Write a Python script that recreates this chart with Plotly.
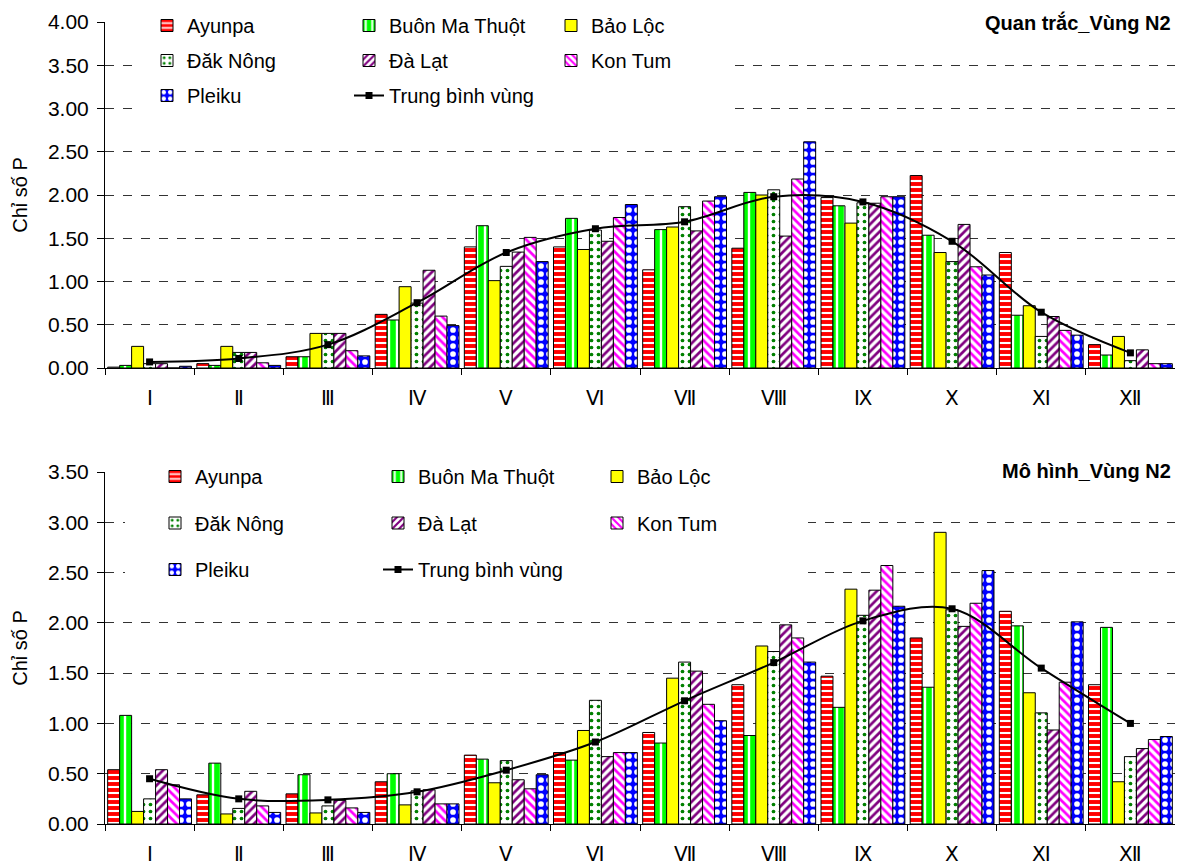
import plotly.graph_objects as go

# ---------------- data ----------------
months = ["Ⅰ", "Ⅱ", "Ⅲ", "Ⅳ", "Ⅴ", "Ⅵ", "Ⅶ", "Ⅷ", "Ⅸ", "Ⅹ", "Ⅺ", "Ⅻ"]
stations = ["Ayunpa", "Buôn Ma Thuột", "Bảo Lộc", "Đăk Nông", "Đà Lạt", "Kon Tum", "Pleiku"]
mean_name = "Trung bình vùng"

# Quan trắc (observed)
obs_ayunpa = [0.01, 0.05, 0.13, 0.62, 1.40, 1.40, 1.135, 1.385, 1.97, 2.225, 1.335, 0.27]
obs_bmt = [0.03, 0.03, 0.13, 0.555, 1.645, 1.73, 1.60, 2.03, 1.875, 1.535, 0.61, 0.15]
obs_baoloc = [0.25, 0.25, 0.40, 0.94, 1.01, 1.37, 1.63, 2.00, 1.675, 1.335, 0.72, 0.365]
obs_daknong = [0.05, 0.18, 0.40, 0.75, 1.175, 1.595, 1.865, 2.06, 1.91, 1.23, 0.365, 0.085]
obs_dalat = [0.05, 0.18, 0.40, 1.13, 1.34, 1.465, 1.585, 1.525, 1.905, 1.66, 0.595, 0.21]
obs_kontum = [0.0, 0.06, 0.20, 0.60, 1.51, 1.74, 1.93, 2.185, 1.98, 1.17, 0.435, 0.05]
obs_pleiku = [0.02, 0.03, 0.14, 0.49, 1.23, 1.89, 1.98, 2.615, 1.98, 1.075, 0.38, 0.05]
obs_mean = [0.07, 0.11, 0.27, 0.755, 1.335, 1.61, 1.69, 1.98, 1.92, 1.465, 0.645, 0.175]

# Mô hình (model)
mod_ayunpa = [0.54, 0.29, 0.30, 0.42, 0.685, 0.71, 0.91, 1.385, 1.47, 1.85, 2.115, 1.385]
mod_bmt = [1.08, 0.605, 0.49, 0.50, 0.645, 0.635, 0.805, 0.88, 1.16, 1.36, 1.97, 1.955]
mod_baoloc = [0.125, 0.10, 0.11, 0.19, 0.41, 0.93, 1.45, 1.77, 2.335, 2.90, 1.305, 0.42]
mod_daknong = [0.25, 0.155, 0.18, 0.33, 0.63, 1.23, 1.61, 1.715, 2.075, 2.13, 1.105, 0.67]
mod_dalat = [0.54, 0.325, 0.235, 0.34, 0.44, 0.67, 1.52, 1.98, 2.325, 1.965, 0.935, 0.75]
mod_kontum = [0.39, 0.18, 0.16, 0.20, 0.35, 0.71, 1.19, 1.85, 2.57, 2.195, 1.41, 0.84]
mod_pleiku = [0.25, 0.115, 0.115, 0.20, 0.49, 0.71, 1.027, 1.61, 2.165, 2.52, 2.01, 0.87]
mod_mean = [0.45, 0.25, 0.24, 0.32, 0.535, 0.815, 1.225, 1.605, 2.02, 2.14, 1.55, 1.0]

obs_series = [obs_ayunpa, obs_bmt, obs_baoloc, obs_daknong, obs_dalat, obs_kontum, obs_pleiku]
mod_series = [mod_ayunpa, mod_bmt, mod_baoloc, mod_daknong, mod_dalat, mod_kontum, mod_pleiku]

title_top = "Quan trắc_Vùng N2"
title_bot = "Mô hình_Vùng N2"
y_title = "Chỉ số P"

# ---------------- styles ----------------
styles = {
    "Ayunpa": dict(bg="#FF0000", fg="#FFFFFF", shape="-", size=6, sol=0.35),
    "Buôn Ma Thuột": dict(bg="#00FF00", fg="#FFFFFF", shape="|", size=8, sol=0.3),
    "Bảo Lộc": dict(bg="#FFFF00", fg="#FFFF00", shape="", size=8, sol=0.3),
    "Đăk Nông": dict(bg="#FFFFFF", fg="#008000", shape=".", size=7, sol=0.22),
    "Đà Lạt": dict(bg="#FFFFFF", fg="#800080", shape="/", size=6, sol=0.45),
    "Kon Tum": dict(bg="#FFFFFF", fg="#FF00FF", shape="\\", size=6, sol=0.45),
    "Pleiku": dict(bg="#0000FF", fg="#FFFFFF", shape=".", size=8, sol=0.4),
}
legend_col = {"Ayunpa": 0, "Buôn Ma Thuột": 1, "Bảo Lộc": 2, "Đăk Nông": 0,
              "Đà Lạt": 1, "Kon Tum": 2, "Pleiku": 0, mean_name: 1}

W, H = 1183, 863
ML, MR, MT, MB = 97, 16, 0, 47
PW, PH = W - ML - MR, H - MT - MB
OFF = 8  # page offset of the figure in the screenshot


def fx(sx):
    return (sx - OFF - ML) / PW


def fy(sy):
    return 1 - (sy - OFF - MT) / PH


FONT = "Liberation Sans, Arial, sans-serif"
FS = 20
fig = go.Figure()

panels = [
    ("x", "y", obs_series, obs_mean, ["legend", "legend2", "legend3"]),
    ("x2", "y2", mod_series, mod_mean, ["legend4", "legend5", "legend6"]),
]
for xa, ya, series, mean, legs in panels:
    for name, vals in zip(stations, series):
        st = styles[name]
        pattern = dict(shape=st["shape"], bgcolor=st["bg"], fgcolor=st["fg"],
                       size=st["size"], solidity=st["sol"], fillmode="replace")
        fig.add_trace(go.Bar(
            x=months, y=vals, name=name, xaxis=xa, yaxis=ya,
            legend=legs[legend_col[name]], legendgroup=xa + name,
            marker=dict(color=st["bg"], pattern=pattern,
                        line=dict(color="#000000", width=1)),
        ))
    fig.add_trace(go.Scatter(
        x=months, y=mean, name=mean_name, xaxis=xa, yaxis=ya,
        legend=legs[legend_col[mean_name]], legendgroup=xa + mean_name,
        mode="lines+markers",
        line=dict(color="#000000", width=2, shape="spline", smoothing=1),
        marker=dict(symbol="square", size=7, color="#000000"),
    ))

axis_common = dict(showline=True, linecolor="#000000", linewidth=1, automargin=False)
xaxis_style = dict(axis_common, type="category", range=[-0.5, 11.5],
                   ticks="outside", ticklen=6, tickcolor="#000000",
                   tickson="boundaries", showgrid=False, domain=[0, 1],
                   tickfont=dict(family=FONT, size=FS, color="#000000"), ticklabelstandoff=12)
yaxis_style = dict(axis_common, ticks="outside", ticklen=7, tickcolor="#000000", tickformat=".2f",
                   dtick=0.5, showgrid=True, gridcolor="#333333", griddash="dash", gridwidth=1,
                   zeroline=False, tickfont=dict(family=FONT, size=21, color="#000000"),
                   ticklabelstandoff=4,
                   title=dict(text=y_title, font=dict(family=FONT, size=FS, color="#000000"), standoff=14))

top_dom = [fy(368), fy(22)]
bot_dom = [fy(824), fy(472)]

legend_base = dict(bgcolor="rgba(0,0,0,0)", borderwidth=0, orientation="v",
                   font=dict(family=FONT, size=FS, color="#000000"),
                   xanchor="left", yanchor="top", traceorder="grouped")

layout = dict(
    width=W, height=H, paper_bgcolor="white", plot_bgcolor="white",
    margin=dict(l=ML, r=MR, t=MT, b=MB, autoexpand=False),
    barmode="group", bargap=0.06, bargroupgap=0,
    showlegend=True,
    xaxis=dict(xaxis_style, anchor="y"),
    yaxis=dict(yaxis_style, range=[0, 4], domain=top_dom, anchor="x"),
    xaxis2=dict(xaxis_style, anchor="y2"),
    yaxis2=dict(yaxis_style, range=[0, 3.5], domain=bot_dom, anchor="x2"),
)
top_cols = [147, 349, 551]
bot_cols = [155, 378, 597]
for i, lg in enumerate(["legend", "legend2", "legend3"]):
    layout[lg] = dict(legend_base, x=fx(top_cols[i]), y=fy(6), tracegroupgap=6)
for i, lg in enumerate(["legend4", "legend5", "legend6"]):
    layout[lg] = dict(legend_base, x=fx(bot_cols[i]), y=fy(457), tracegroupgap=17.5)

fig.update_layout(**layout)

# white boxes hiding gridlines behind the legends (no data marks lie in these areas)
fig.add_shape(type="rect", xref="paper", yref="paper", layer="above",
              x0=fx(138), x1=fx(735), y0=fy(125), y1=fy(9),
              fillcolor="white", line=dict(width=0))
fig.add_shape(type="rect", xref="paper", yref="paper", layer="above",
              x0=fx(125), x1=fx(808), y0=fy(592), y1=fy(455),
              fillcolor="white", line=dict(width=0))

fig.add_annotation(text="<b>" + title_top + "</b>", xref="paper", yref="paper",
                   x=fx(1175), y=fy(22), xanchor="right", yanchor="middle", showarrow=False,
                   bgcolor="white", borderpad=3,
                   font=dict(family=FONT, size=FS, color="#000000"))
fig.add_annotation(text="<b>" + title_bot + "</b>", xref="paper", yref="paper",
                   x=fx(1175), y=fy(471), xanchor="right", yanchor="middle", showarrow=False,
                   bgcolor="white", borderpad=3,
                   font=dict(family=FONT, size=FS, color="#000000"))

fig.write_html("out.html")
